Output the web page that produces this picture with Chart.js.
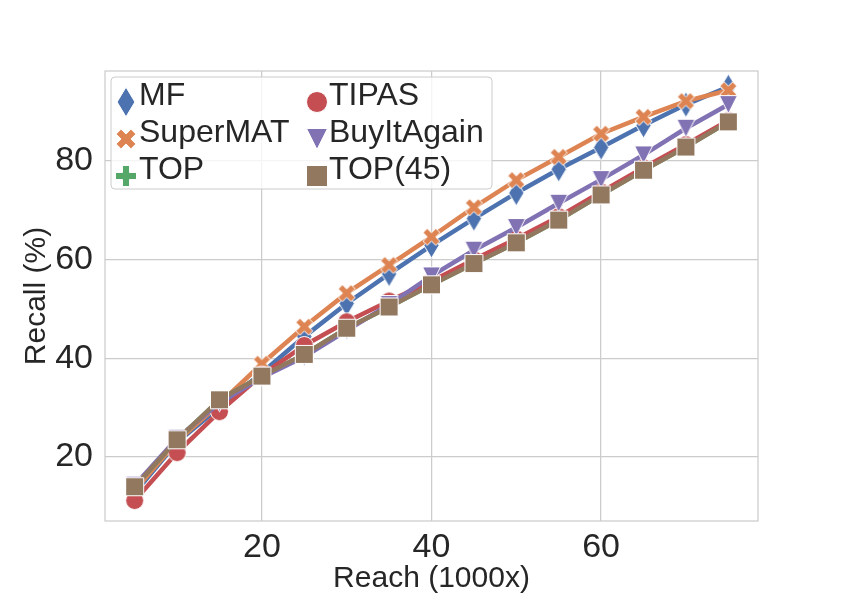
<!DOCTYPE html>
<html>
<head>
<meta charset="utf-8">
<script src="https://cdn.jsdelivr.net/npm/chart.js@4.4.1/dist/chart.umd.min.js"></script>
<style>
  html, body { margin: 0; padding: 0; background: #fff; }
  #wrap { width: 842px; height: 595px; }
</style>
</head>
<body>
<div id="wrap"><canvas id="chart" width="842" height="595"></canvas></div>
<script>
const reach = [5, 10, 15, 20, 25, 30, 35, 40, 45, 50, 55, 60, 65, 70, 75];
const mf = [12.7, 23.0, 30.1, 37.1, 44.4, 51.1, 57.1, 62.9, 68.3, 73.5, 78.3, 82.7, 87.2, 91.4, 95.0];
const superMat = [13.2, 23.2, 30.8, 38.9, 46.4, 53.2, 58.9, 64.6, 70.6, 76.1, 80.8, 85.5, 88.9, 92.1, 94.3];
const top100 = [14.0, 23.5, 31.6, 36.4, 40.8, 46.1, 50.4, 54.9, 59.2, 63.4, 68.0, 73.1, 78.1, 82.8, 87.9];
const tipas = [11.2, 20.9, 29.2, 36.6, 42.6, 47.4, 51.6, 55.6, 60.0, 64.2, 68.7, 73.7, 78.6, 83.3, 88.2];
const buyItAgain = [14.3, 23.8, 31.0, 36.1, 40.3, 45.6, 50.9, 56.7, 61.9, 66.5, 71.4, 76.2, 81.2, 86.6, 91.4];
const top45 = [14.0, 23.5, 31.6, 36.4, 40.8, 46.1, 50.4, 54.9, 59.2, 63.4, 68.0, 73.1, 78.1, 82.8, 87.9];

const xTicks = [20, 40, 60];
const yTicks = [20, 40, 60, 80];

const seriesNames = ['MF', 'SuperMAT', 'TOP', 'TIPAS', 'BuyItAgain', 'TOP(45)'];
const seriesData = [mf, superMat, top100, tipas, buyItAgain, top45];
const seriesColors = ['#4C72B0', '#DD8452', '#55A868', '#C44E52', '#8172B3', '#937860'];
const seriesMarkers = ['diamond', 'x', 'plus', 'circle', 'triangleDown', 'square'];

const FONT = '"Liberation Sans", Arial, "DejaVu Sans", sans-serif';
const TEXT = '#262626';
const GRID = '#cccccc';

function markerPath(ctx, kind, cx, cy, s) {
  ctx.beginPath();
  if (kind === 'circle') {
    ctx.arc(cx, cy, s / 2, 0, Math.PI * 2);
  } else if (kind === 'square') {
    ctx.rect(cx - s / 2, cy - s / 2, s, s);
  } else if (kind === 'triangleDown') {
    ctx.moveTo(cx - s / 2, cy - s / 2);
    ctx.lineTo(cx + s / 2, cy - s / 2);
    ctx.lineTo(cx, cy + s / 2);
  } else if (kind === 'diamond') {
    const h = s * 0.707, w = s * 0.424;
    ctx.moveTo(cx, cy - h);
    ctx.lineTo(cx + w, cy);
    ctx.lineTo(cx, cy + h);
    ctx.lineTo(cx - w, cy);
  } else {
    const pts = [[-1, -3], [1, -3], [1, -1], [3, -1], [3, 1], [1, 1], [1, 3], [-1, 3], [-1, 1], [-3, 1], [-3, -1], [-1, -1]];
    const a = kind === 'x' ? Math.PI / 4 : 0;
    pts.forEach(([px, py], i) => {
      const x = (px * Math.cos(a) - py * Math.sin(a)) * s / 6;
      const y = (px * Math.sin(a) + py * Math.cos(a)) * s / 6;
      if (i === 0) ctx.moveTo(cx + x, cy + y); else ctx.lineTo(cx + x, cy + y);
    });
  }
  ctx.closePath();
}

function drawMarker(ctx, kind, cx, cy, s, color) {
  markerPath(ctx, kind, cx, cy, s);
  ctx.fillStyle = color;
  ctx.fill();
  ctx.lineWidth = 1;
  ctx.strokeStyle = '#ffffff';
  ctx.stroke();
}

function markerCanvas(kind, color, s) {
  const c = document.createElement('canvas');
  const dim = Math.ceil(s * 1.5) + 4;
  c.width = dim;
  c.height = dim;
  drawMarker(c.getContext('2d'), kind, dim / 2, dim / 2, s, color);
  return c;
}

const frame = {
  id: 'frame',
  afterDatasetsDraw(chart) {
    const { ctx, chartArea: a } = chart;
    ctx.save();
    ctx.strokeStyle = GRID;
    ctx.lineWidth = 1.25;
    ctx.strokeRect(a.left, a.top, a.right - a.left, a.bottom - a.top);
    ctx.restore();
  },
};

const legendBox = {
  id: 'legendBox',
  afterDraw(chart) {
    const { ctx } = chart;
    ctx.save();
    ctx.beginPath();
    ctx.roundRect(111, 77, 381, 112, 4);
    ctx.fillStyle = 'rgba(255,255,255,0.8)';
    ctx.fill();
    ctx.strokeStyle = GRID;
    ctx.lineWidth = 1;
    ctx.stroke();
    ctx.font = '32px ' + FONT;
    ctx.textBaseline = 'alphabetic';
    ctx.textAlign = 'left';
    seriesNames.forEach((name, i) => {
      const col = Math.floor(i / 3);
      const row = i % 3;
      const mx = col === 0 ? 126 : 317;
      const tx = col === 0 ? 139 : 329;
      const my = 102 + row * 37;
      drawMarker(ctx, seriesMarkers[i], mx, my, 21, seriesColors[i]);
      ctx.fillStyle = TEXT;
      ctx.fillText(name, tx, my + 3);
    });
    ctx.restore();
  },
};

const datasets = seriesNames.map((name, i) => ({
  label: name,
  data: seriesData[i].map((v, j) => ({ x: reach[j], y: v })),
  borderColor: seriesColors[i],
  backgroundColor: seriesColors[i],
  borderWidth: 4.5,
  pointStyle: markerCanvas(seriesMarkers[i], seriesColors[i], 18),
  pointRadius: 9,
  tension: 0,
  order: seriesNames.length - i,
}));

new Chart(document.getElementById('chart'), {
  type: 'line',
  data: { datasets },
  options: {
    responsive: false,
    animation: false,
    devicePixelRatio: 1,
    layout: { padding: { top: 71, right: 84, left: 0, bottom: 0 } },
    plugins: {
      legend: { display: false },
      tooltip: { enabled: false },
    },
    scales: {
      x: {
        type: 'linear',
        min: 1.5,
        max: 78.5,
        afterBuildTicks: scale => { scale.ticks = xTicks.map(v => ({ value: v })); },
        afterFit: scale => { scale.height = 74; },
        grid: { color: GRID, lineWidth: 1.25, drawTicks: false },
        border: { display: false },
        ticks: { padding: 6, color: TEXT, font: { family: FONT, size: 34 } },
        title: {
          display: true,
          text: 'Reach (1000x)',
          color: TEXT,
          font: { family: FONT, size: 30 },
          padding: { top: 0, bottom: -2 },
        },
      },
      y: {
        type: 'linear',
        min: 7.05,
        max: 98.2,
        afterBuildTicks: scale => { scale.ticks = yTicks.map(v => ({ value: v })); },
        afterFit: scale => { scale.width = 105; },
        grid: { color: GRID, lineWidth: 1.25, drawTicks: false },
        border: { display: false },
        ticks: { padding: 12, color: TEXT, font: { family: FONT, size: 34 } },
        title: {
          display: true,
          text: 'Recall (%)',
          color: TEXT,
          font: { family: FONT, size: 30 },
          padding: { top: 19, bottom: 0 },
        },
      },
    },
  },
  plugins: [frame, legendBox],
});
</script>
</body>
</html>
